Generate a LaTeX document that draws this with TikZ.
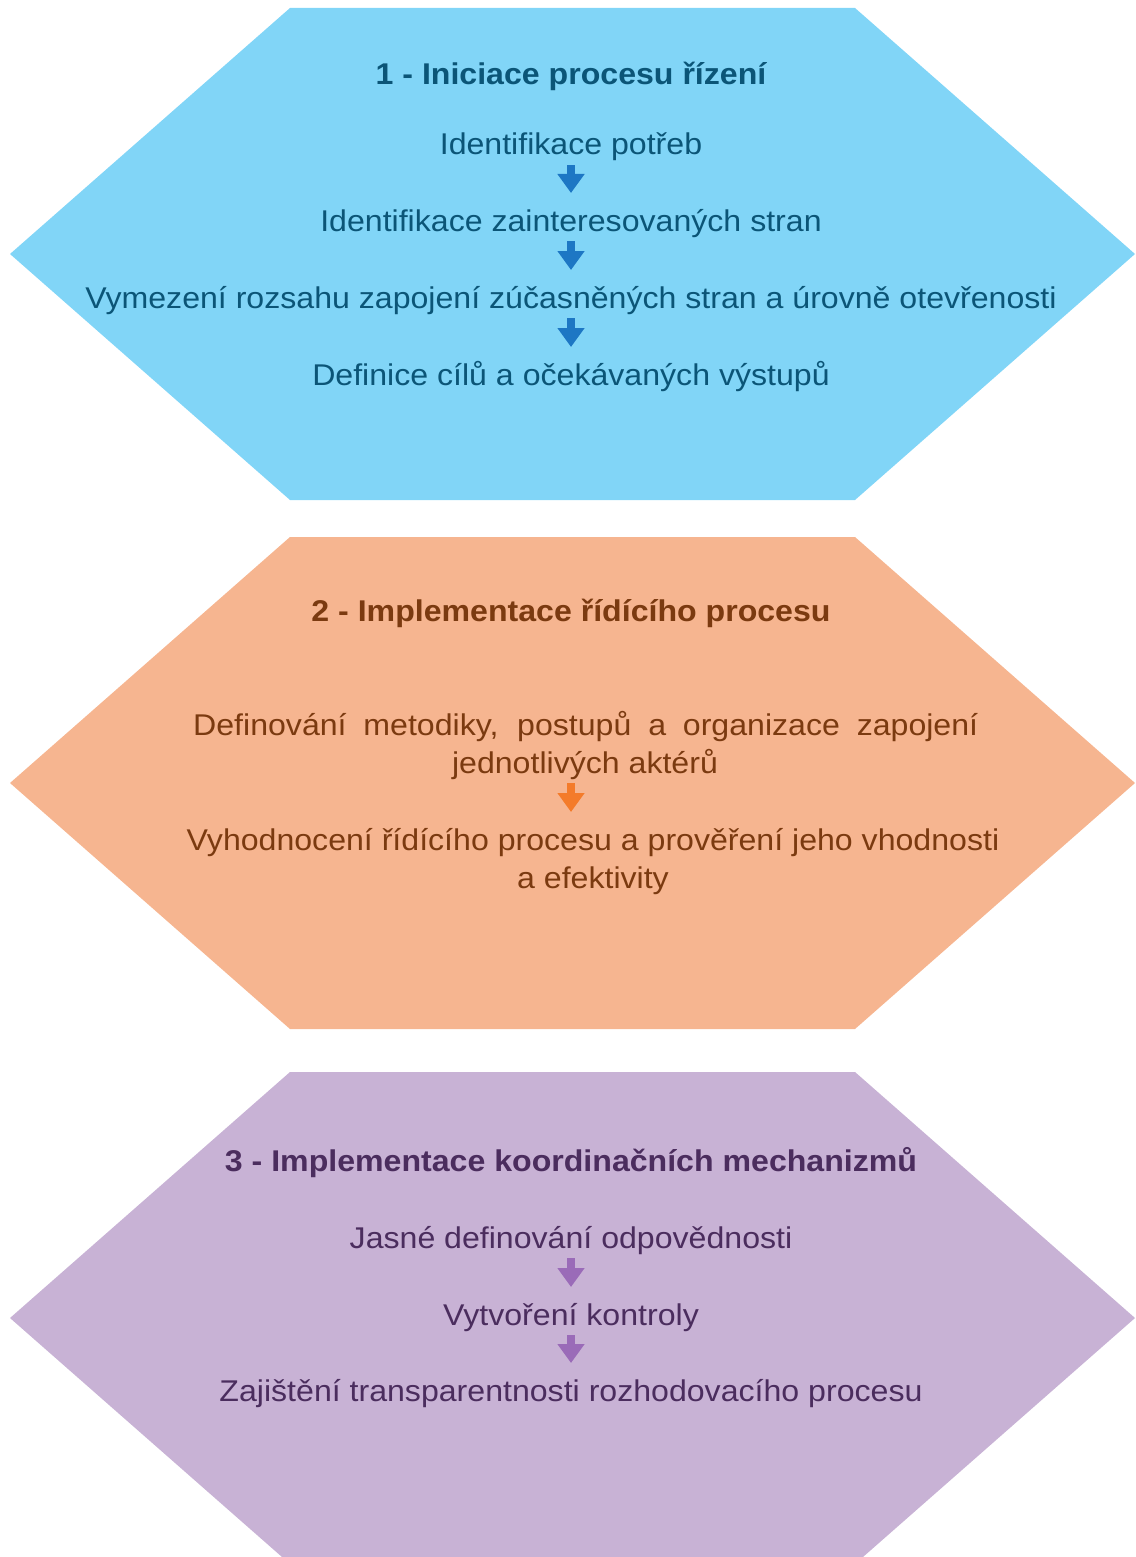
\documentclass[tikz,border=0pt]{standalone}
\usepackage{fontspec}
\setmainfont{Liberation Sans}[FakeStretch=1.07]
\usetikzlibrary{arrows.meta}
\definecolor{bluefill}{HTML}{81D5F7}
\definecolor{orangefill}{HTML}{F6B590}
\definecolor{purplefill}{HTML}{C8B2D5}
\definecolor{bluetext}{HTML}{0B5577}
\definecolor{browntext}{HTML}{7B3A10}
\definecolor{purpletext}{HTML}{4B2D5E}
\definecolor{bluearrow}{HTML}{1D77C4}
\definecolor{orangearrow}{HTML}{F47B2A}
\definecolor{purplearrow}{HTML}{9A6BB8}
\begin{document}
\begin{tikzpicture}[x=1bp,y=-1bp,
  txt/.style={inner sep=0pt, anchor=base, font=\fontsize{30bp}{36bp}\selectfont},
  ttl/.style={txt, font=\fontsize{30bp}{36bp}\selectfont\bfseries},
  flowarrow/.style={line width=8bp, shorten <=10bp, shorten >=38bp,
     -{Triangle[width=26bp,length=19bp]}}
]
\useasboundingbox (0,0) rectangle (1135,1557);
% hexagons
\fill[bluefill] (290,8) -- (855,8) -- (1135,254) -- (855,500) -- (290,500) -- (10,254) -- cycle;
\fill[orangefill] (290,537) -- (855,537) -- (1135,783) -- (855,1029) -- (290,1029) -- (10,783) -- cycle;
\fill[purplefill] (290,1072) -- (855,1072) -- (1135,1318) -- (855,1564) -- (290,1564) -- (10,1318) -- cycle;

% section 1
\begin{scope}[text=bluetext]
\node[ttl] (t1) at (571,85) {1 - Iniciace procesu řízení};
\node[txt] (a1) at (571,155) {Identifikace potřeb};
\node[txt] (a2) at (571,231) {Identifikace zainteresovaných stran};
\node[txt] (a3) at (571,308) {Vymezení rozsahu zapojení zúčasněných stran a úrovně otevřenosti};
\node[txt] (a4) at (571,385) {Definice cílů a očekávaných výstupů};
\end{scope}
\draw[flowarrow, bluearrow] (a1.base) -- (a2.base);
\draw[flowarrow, bluearrow] (a2.base) -- (a3.base);
\draw[flowarrow, bluearrow] (a3.base) -- (a4.base);

% section 2
\begin{scope}[text=browntext]
\node[ttl] (t2) at (571,621) {2 - Implementace řídícího procesu};
\node[txt, anchor=base west] (b1) at (193,735) {\makebox[785bp][s]{Definování metodiky, postupů a organizace zapojení}};
\node[txt] (b2) at (585,773) {jednotlivých aktérů};
\node[txt] (b3) at (593,850) {Vyhodnocení řídícího procesu a prověření jeho vhodnosti};
\node[txt] (b4) at (593,888) {a efektivity};
\end{scope}
\draw[flowarrow, orangearrow] (b2.base -| t2.base) -- (b3.base -| t2.base);

% section 3
\begin{scope}[text=purpletext]
\node[ttl] (t3) at (571,1171) {3 - Implementace koordinačních mechanizmů};
\node[txt] (c1) at (571,1248) {Jasné definování odpovědnosti};
\node[txt] (c2) at (571,1325) {Vytvoření kontroly};
\node[txt] (c3) at (571,1401) {Zajištění transparentnosti rozhodovacího procesu};
\end{scope}
\draw[flowarrow, purplearrow] (c1.base) -- (c2.base);
\draw[flowarrow, purplearrow] (c2.base) -- (c3.base);
\end{tikzpicture}
\end{document}
